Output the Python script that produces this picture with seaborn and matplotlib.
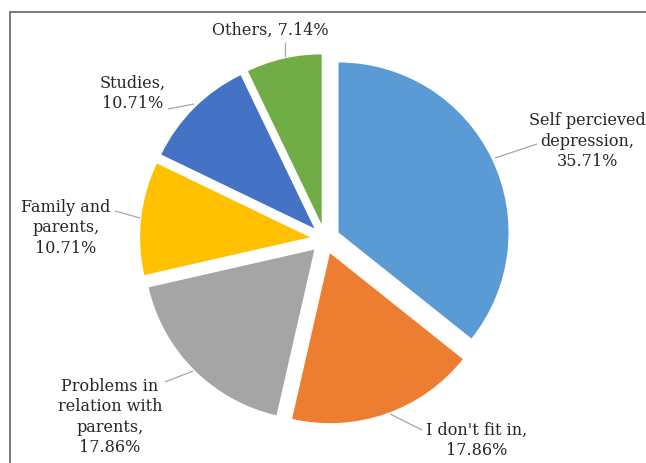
import matplotlib
matplotlib.use("Agg")
import matplotlib.pyplot as plt
import seaborn as sns
from matplotlib.patches import Rectangle

# Reasons reported (share of responses, %)
categories = ["Self percieved depression", "I don't fit in",
              "Problems in relation with parents", "Family and parents",
              "Studies", "Others"]
shares = [35.71, 17.86, 17.86, 10.71, 10.71, 7.14]
label_texts = ["Self percieved\ndepression,\n35.71%",
               "I don't fit in,\n17.86%",
               "Problems in\nrelation with\nparents,\n17.86%",
               "Family and\nparents,\n10.71%",
               "Studies,\n10.71%",
               "Others, 7.14%"]
slice_colors = ["#5B9BD5", "#ED7D31", "#A5A5A5", "#FFC000", "#4472C4", "#70AD47"]

sns.set_theme(style="white")
plt.rcParams["font.family"] = ["DejaVu Serif"]
palette = sns.color_palette(slice_colors)

W, H = 646, 464
fig = plt.figure(figsize=(W / 100, H / 100), dpi=100)
ax = fig.add_axes([0, 0, 1, 1])


def py(y):
    """Convert a top-down pixel row to the axes' upward y coordinate."""
    return H - y


cx, cy, r = 325, py(240), 170
ax.pie(shares, colors=palette, startangle=90, counterclock=False,
       radius=r, center=(cx, cy), explode=[15] * len(shares),
       wedgeprops=dict(linewidth=0))
ax.set_xlim(0, W)
ax.set_ylim(0, H)
ax.set_aspect("equal")
ax.axis("off")

# label centres and leader lines (pixel positions, top-down)
label_pos = [(587, 141), (477, 440), (110, 417), (66, 228), (133, 93), (270, 30)]
leaders = [
    [(537, 145), (495, 159)],
    [(422, 431), (390, 415)],
    [(165, 383), (193, 372)],
    [(115, 212), (140, 219)],
    [(168, 110), (194, 105)],
    [(285, 43), (285, 58)],
]

for text, (x, y), seg in zip(label_texts, label_pos, leaders):
    ax.text(x, py(y), text, ha="center", va="center", fontsize=11.5,
            color="#262626", linespacing=1.25)
    (x0, y0), (x1, y1) = seg
    ax.plot([x0, x1], [py(y0), py(y1)], color="#A6A6A6", lw=0.9,
            solid_capstyle="butt")

# chart-area border
fig.patches.append(Rectangle((10 / W, -0.1), 1.2, (1 - 13 / H) + 0.1,
                             transform=fig.transFigure, fill=False,
                             edgecolor="#6e6e6e", linewidth=1.3))

fig.savefig("out.png", dpi=100)
